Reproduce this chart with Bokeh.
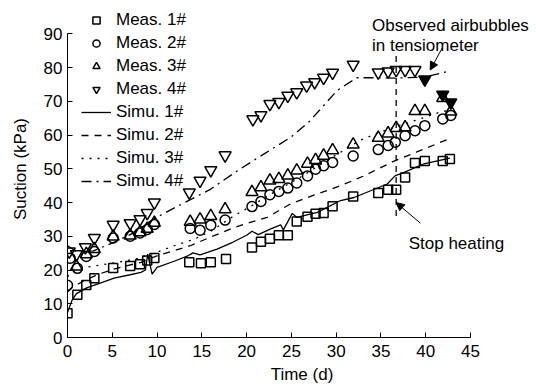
from bokeh.plotting import figure
from bokeh.models import Range1d, Legend, LegendItem, Label, Arrow, NormalHead, FixedTicker
from bokeh.embed import file_html
from bokeh.resources import INLINE

FONT = "Liberation Sans"
FS = "17px"

# ---- data ----
meas1_t = [0, 1.1, 2.1, 3, 5.1, 7, 8.1, 8.9, 9.7, 13.6, 14.9, 16, 17.7, 20.6, 21.6, 22.6, 23.6, 24.6,
           25.6, 26.8, 27.7, 28.6, 29.6, 31.9, 34.7, 35.8, 36.7, 37.7, 38.8, 39.9, 41.9, 42.7]
meas1_v = [7.2, 12.7, 15.6, 17.6, 20.6, 21.2, 21.7, 22.8, 23.6, 22.3, 22.0, 22.3, 23.3, 26.7, 28.4, 29.3,
           30.3, 30.3, 34.4, 35.8, 36.7, 36.9, 38.9, 41.8, 42.8, 43.8, 43.8, 47.4, 51.7, 52.3, 52.3, 52.9]

meas2_t = [0, 0.3, 1.1, 2.1, 3, 5.1, 7, 8.1, 8.9, 9.7, 13.7, 14.8, 16, 17.6, 20.6, 21.6, 22.6, 23.6, 24.6,
           25.6, 26.8, 27.7, 28.6, 29.6, 31.9, 34.7, 35.8, 36.6, 37.7, 38.8, 39.9, 41.9, 42.8]
meas2_v = [15.5, 23.5, 20.5, 24.0, 25.5, 29.5, 30.0, 31.0, 32.0, 33.5, 32.3, 31.8, 33.3, 34.8, 38.8, 40.3,
           42.3, 43.3, 44.3, 45.8, 47.9, 49.9, 50.9, 51.9, 53.8, 55.7, 56.9, 57.9, 59.8, 61.3, 62.8, 64.8, 65.8]

meas3_t = [1.0, 2.1, 3, 5.1, 7, 8.1, 8.9, 9.7, 13.7, 14.8, 16, 17.6, 20.6, 21.6, 22.6, 23.6, 24.6,
           25.6, 26.8, 27.7, 28.6, 29.6, 31.9, 34.7, 35.8, 36.7, 37.7, 38.8, 39.9, 41.9, 42.8]
meas3_v = [21.0, 24.7, 26.2, 29.9, 30.2, 31.2, 32.2, 34.0, 34.3, 35.0, 36.0, 38.0, 43.1, 44.5, 46.5, 47.0,
           48.0, 49.5, 51.5, 52.6, 53.9, 55.5, 57.2, 59.2, 60.5, 62.1, 62.3, 67.1, 67.1, 71.0, 67.0]

meas4_t = [0.2, 1.0, 2.0, 3, 5.1, 7, 8.1, 8.9, 9.7, 13.6, 14.8, 16, 17.6, 20.7, 21.6, 22.6, 23.6, 24.6,
           25.6, 26.7, 27.6, 28.6, 29.6, 31.9, 34.7, 35.8, 36.7, 37.7, 38.8]
meas4_v = [25.5, 24.7, 26.8, 29.5, 33.4, 33.9, 35.1, 36.9, 40.0, 43.0, 46.5, 49.6, 54.0, 64.7, 65.9, 69.2,
           69.8, 71.7, 72.7, 74.7, 75.7, 77.0, 78.5, 80.9, 78.6, 78.9, 79.3, 79.3, 79.3]

bubble_t = [39.9, 41.9, 42.8]
bubble_v = [76.5, 72.0, 69.7]

simu1_t = [0, 0.5, 1, 2.2, 3.5, 5.2, 7, 8.2, 8.7, 8.95, 9.45, 10, 11.9, 13.5, 14.0, 14.8, 16.7, 18.5,
           20, 20.6, 21.3, 22.7, 23.8, 24.1, 25.1, 25.6, 27.9, 30.5, 32, 35.7, 36.6, 37.4, 39.8, 42.7]
simu1_v = [7.4, 11.0, 13.0, 14.8, 16.0, 17.6, 18.6, 19.3, 20.0, 24.7, 18.8, 20.8, 22.6, 24.3, 25.1, 24.5,
           26.2, 28.3, 30.3, 31.5, 30.5, 32.2, 33.4, 31.9, 36.8, 35.6, 37.1, 40.6, 41.5, 45.5, 48.0, 48.7, 51.5, 53.2]

simu2_t = [0, 0.5, 1.8, 3.5, 5.2, 8.2, 10, 13.7, 16, 18.6, 20.4, 22.3, 24.9, 27.5, 30.5, 33, 36.4, 39, 42.6]
simu2_v = [13.5, 14.8, 16.8, 18.8, 20.3, 22.3, 24.2, 27.2, 29.8, 32.6, 34.1, 35.6, 39.6, 42.2, 45.0, 47.8,
           52.2, 55.0, 58.9]

simu3_t = [0, 0.5, 2, 4, 6, 8, 9.3, 10, 11.9, 14, 16, 18.6, 20.4, 23, 26, 29, 32.7, 35, 36.8, 39, 41.6, 42.8]
simu3_v = [18.0, 19.5, 20.8, 21.6, 22.5, 23.5, 24.7, 25.3, 27.2, 29.0, 31.5, 36.1, 38.8, 43.0, 47.5, 52.5,
           58.5, 61.0, 62.6, 64.5, 66.8, 67.5]

simu4_t = [0, 1, 2.9, 5, 7, 9.6, 12, 16, 19.3, 22, 24.9, 27, 30.1, 32.3, 34, 36.8, 39.8, 42.7]
simu4_v = [27.2, 25.5, 25.7, 28.0, 30.5, 35.1, 38.5, 44.0, 50.0, 54.5, 59.3, 64.0, 73.2, 77.0, 77.0,
           76.9, 77.2, 79.0]

x_ticks = [0, 5, 10, 15, 20, 25, 30, 35, 40, 45]
y_ticks = [0, 10, 20, 30, 40, 50, 60, 70, 80, 90]
x_axis_span = (0, 45)
y_axis_span = (0, 90)

stop_day = 36.7
stop_line_v = [36, 85]

# ---- figure ----
# the frame covers the whole top/right area so annotations outside the axes are not clipped;
# axis bounds keep the drawn axes to 0-45 and 0-90
p = figure(width=536, height=389, output_backend="svg", toolbar_location=None,
           x_range=Range1d(0, 52.37), y_range=Range1d(0, 99.9),
           min_border_left=67, min_border_right=0, min_border_top=0, min_border_bottom=52)
p.outline_line_color = None
p.grid.visible = False
p.background_fill_color = "white"

p.xaxis.axis_label = "Time (d)"
p.yaxis.axis_label = "Suction (kPa)"
p.xaxis.ticker = FixedTicker(ticks=x_ticks)
p.yaxis.ticker = FixedTicker(ticks=y_ticks)
p.xaxis.bounds = x_axis_span
p.yaxis.bounds = y_axis_span
for ax in (p.xaxis[0], p.yaxis[0]):
    ax.major_tick_in = 5
    ax.major_tick_out = 0
    ax.minor_tick_line_color = None
    ax.axis_line_color = "black"
    ax.major_tick_line_color = "black"
    ax.major_label_text_font = FONT
    ax.major_label_text_font_size = FS
    ax.major_label_text_color = "black"
    ax.axis_label_text_font = FONT
    ax.axis_label_text_font_size = FS
    ax.axis_label_text_font_style = "normal"
    ax.axis_label_text_color = "black"
p.xaxis.major_label_standoff = 7
p.yaxis.major_label_standoff = 5
p.xaxis.axis_label_standoff = 5
p.yaxis.axis_label_standoff = 11

lw = 1.3
r_s1 = p.line(simu1_t, simu1_v, line_color="black", line_width=lw)
r_s2 = p.line(simu2_t, simu2_v, line_color="black", line_width=lw, line_dash="7 6")
r_s3 = p.line(simu3_t, simu3_v, line_color="black", line_width=lw, line_dash="2 6")
r_s4 = p.line(simu4_t, simu4_v, line_color="black", line_width=lw, line_dash="10 5 2 5")

r_m1 = p.scatter(meas1_t, meas1_v, marker="square", size=9, fill_color=None, line_color="black", line_width=1.5)
r_m2 = p.scatter(meas2_t, meas2_v, marker="circle", size=10, fill_color=None, line_color="black", line_width=1.5)
r_m3 = p.scatter(meas3_t, meas3_v, marker="triangle", size=12, fill_color=None, line_color="black", line_width=1.5)
r_m4 = p.scatter(meas4_t, meas4_v, marker="inverted_triangle", size=12, fill_color=None, line_color="black", line_width=1.5)
p.scatter(bubble_t, bubble_v, marker="inverted_triangle", size=12, fill_color="black", line_color="black", line_width=1.5)

p.segment(x0=[stop_day], y0=[stop_line_v[0]], x1=[stop_day], y1=[stop_line_v[1]],
          line_color="black", line_width=lw, line_dash="6 5")

legend = Legend(items=[
    LegendItem(label="Meas. 1#", renderers=[r_m1]),
    LegendItem(label="Meas. 2#", renderers=[r_m2]),
    LegendItem(label="Meas. 3#", renderers=[r_m3]),
    LegendItem(label="Meas. 4#", renderers=[r_m4]),
    LegendItem(label="Simu. 1#", renderers=[r_s1]),
    LegendItem(label="Simu. 2#", renderers=[r_s2]),
    LegendItem(label="Simu. 3#", renderers=[r_s3]),
    LegendItem(label="Simu. 4#", renderers=[r_s4]),
], location=(14, 146), padding=0, margin=0, spacing=3, glyph_height=18, glyph_width=30,
    label_height=18, label_standoff=5, border_line_color=None, background_fill_alpha=0,
    label_text_font=FONT, label_text_font_size=FS, label_text_color="black")
p.add_layout(legend)

# annotations
p.add_layout(Label(x=34.0, y=92.5, text="Observed airbubbles", text_font=FONT, text_font_size=FS,
                   text_baseline="alphabetic", text_color="black"))
p.add_layout(Label(x=34.0, y=86.6, text="in tensiometer", text_font=FONT, text_font_size=FS,
                   text_baseline="alphabetic", text_color="black"))
p.add_layout(Label(x=38.1, y=28.0, text="Stop heating", text_font=FONT, text_font_size=FS,
                   text_baseline="alphabetic", text_color="black"))
p.add_layout(Arrow(x_start=41.9, y_start=86.1, x_end=40.5, y_end=79.3, line_width=1,
                   end=NormalHead(size=8, fill_color="black", line_color="black")))
p.add_layout(Arrow(x_start=39.4, y_start=33.9, x_end=36.7, y_end=40.0, line_width=1,
                   end=NormalHead(size=8, fill_color="black", line_color="black")))

open("out.html", "w").write(file_html(p, INLINE))
